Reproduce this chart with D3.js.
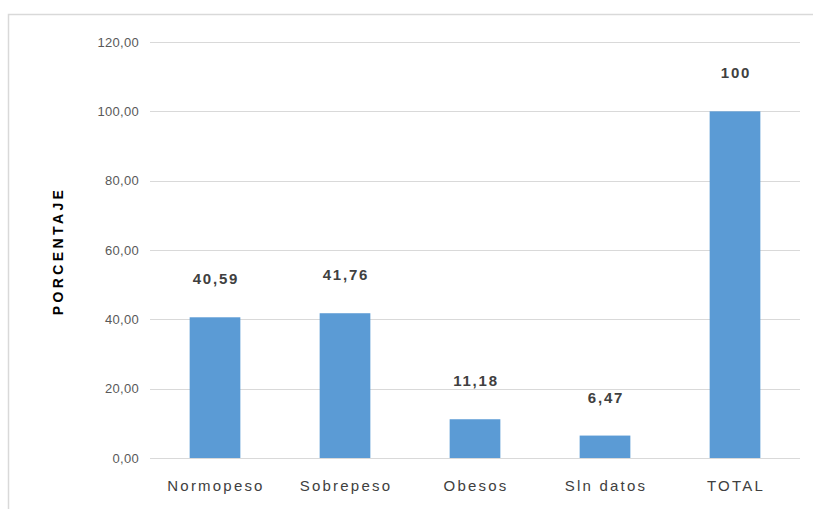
<!DOCTYPE html>
<html>
<head>
<meta charset="utf-8">
<script src="https://cdn.jsdelivr.net/npm/d3@7"></script>
<style>
  body { margin: 0; background: #fff; }
  text { font-family: "Liberation Sans Narrow", "Liberation Sans", Arial, sans-serif; }
</style>
</head>
<body>
<svg id="chart" width="813" height="509"></svg>
<script>
const categories = ['Normopeso', 'Sobrepeso', 'Obesos', 'Sln datos', 'TOTAL'];
const values = [40.59, 41.76, 11.18, 6.47, 100];
const valueLabels = ['40,59', '41,76', '11,18', '6,47', '100'];
const yTicks = [0, 20, 40, 60, 80, 100, 120];

const svg = d3.select('#chart');
const margin = { top: 42, left: 150, right: 13, bottom: 51 };
const width = 813 - margin.left - margin.right;
const height = 509 - margin.top - margin.bottom;

// outer chart frame (runs off the right/bottom of the picture)
svg.append('rect')
  .attr('x', 8.5).attr('y', 14.5)
  .attr('width', 820).attr('height', 520)
  .attr('fill', 'none').attr('stroke', '#d9d9d9').attr('stroke-width', 1.5);

const g = svg.append('g').attr('transform', `translate(${margin.left},${margin.top})`);

const x = d3.scaleBand().domain(categories).range([0, width]).paddingInner(0.61).paddingOuter(0.305);
const y = d3.scaleLinear().domain([0, 120]).range([height, 0]);

const fmt = (d) => d3.format('.2f')(d).replace('.', ',');

// gridlines
g.append('g')
  .selectAll('line')
  .data(yTicks)
  .enter().append('line')
  .attr('x1', 0).attr('x2', width)
  .attr('y1', (d) => Math.round(y(d)) + 0.5)
  .attr('y2', (d) => Math.round(y(d)) + 0.5)
  .attr('stroke', '#d9d9d9').attr('stroke-width', 1.2);

// y axis labels
const yAxis = g.append('g')
  .call(d3.axisLeft(y).tickValues(yTicks).tickFormat(fmt).tickSize(0).tickPadding(11));
yAxis.select('.domain').remove();
yAxis.selectAll('text').attr('fill', '#595959').style('font-size', '13px').style('letter-spacing', '0.3px');

// bars
g.append('g')
  .selectAll('rect')
  .data(values)
  .enter().append('rect')
  .attr('x', (d, i) => x(categories[i]))
  .attr('y', (d) => y(d))
  .attr('width', x.bandwidth())
  .attr('height', (d) => height - y(d))
  .attr('fill', '#5b9bd5');

// value labels
g.append('g')
  .selectAll('text')
  .data(values)
  .enter().append('text')
  .attr('x', (d, i) => x(categories[i]) + x.bandwidth() / 2 + 1)
  .attr('y', (d) => y(d) - 33)
  .attr('text-anchor', 'middle')
  .attr('fill', '#404040')
  .style('font-size', '15px')
  .style('font-weight', 'bold')
  .style('letter-spacing', '1.8px')
  .text((d, i) => valueLabels[i]);

// x axis labels
const xAxis = g.append('g')
  .attr('transform', `translate(0,${height})`)
  .call(d3.axisBottom(x).tickSize(0).tickPadding(22));
xAxis.select('.domain').remove();
xAxis.selectAll('text')
  .attr('dx', '1px')
  .attr('fill', '#404040')
  .style('font-size', '15px')
  .style('letter-spacing', '2.2px');

// y axis title
svg.append('text')
  .attr('transform', `translate(63,${margin.top + height / 2 + 1}) rotate(-90)`)
  .attr('text-anchor', 'middle')
  .attr('fill', '#000')
  .style('font-size', '14px')
  .style('font-weight', 'bold')
  .style('letter-spacing', '3.4px')
  .text('PORCENTAJE');
</script>
</body>
</html>
